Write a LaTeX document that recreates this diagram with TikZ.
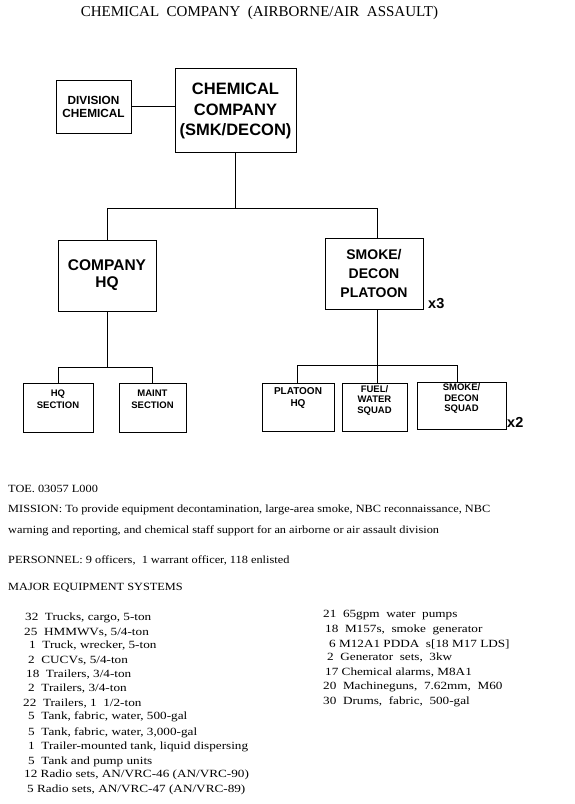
\documentclass[tikz,border=0pt]{standalone}
\usepackage{fontspec}
\setmainfont{Liberation Serif}
\setsansfont{Liberation Sans}
\newfontfamily\bodyfont[FakeStretch=1.12]{Liberation Serif}
\newfontfamily\listfont[FakeStretch=1.2]{Liberation Serif}
\begin{document}
\begin{tikzpicture}[x=1pt,y=-1pt,
  box/.style={draw,line width=1pt,inner sep=0pt},
  lbl/.style={inner sep=0pt,align=center,font=\sffamily\bfseries},
  conn/.style={line width=0.9pt},
  txt/.style={anchor=west,inner sep=0pt,font=\bodyfont\fontsize{11}{12}\selectfont},
  lst/.style={anchor=west,inner sep=0pt,font=\listfont\fontsize{11}{12}\selectfont},
  mult/.style={anchor=west,inner sep=0pt,font=\sffamily\bfseries\fontsize{14.5}{15}\selectfont}]
\useasboundingbox[fill=white] (0,0) rectangle (575,804);
% title
\node[inner sep=0pt,font=\fontsize{15}{17}\selectfont] (title) at (259.5,13) {CHEMICAL\ \ COMPANY\ \ (AIRBORNE/AIR\ \ ASSAULT)};
% boxes
\node[box,minimum width=75pt,minimum height=53pt] (div) at (93.5,106.5) {};
\node[lbl,font=\sffamily\bfseries\fontsize{11.8}{13}\selectfont] (divt) at (div.center) {DIVISION\\CHEMICAL};
\node[box,minimum width=121pt,minimum height=84pt] (chem) at (235.5,110) {};
\node[lbl,font=\sffamily\bfseries\fontsize{16.5}{20.5}\selectfont] (chemt) at ([yshift=-1pt]chem.center) {CHEMICAL\\COMPANY\\(SMK/DECON)};
\node[box,minimum width=98pt,minimum height=71pt] (cohq) at (107,275.5) {};
\node[lbl,font=\sffamily\bfseries\fontsize{15.5}{17}\selectfont] (cohqt) at (cohq.center) {COMPANY\\HQ};
\node[box,minimum width=98pt,minimum height=71pt] (plat) at (374,273.5) {};
\node[lbl,font=\sffamily\bfseries\fontsize{14}{19}\selectfont] (platt) at (plat.center) {SMOKE/\\DECON\\PLATOON};
\node[box,minimum width=70pt,minimum height=49pt] (hqs) at (58,407.5) {};
\node[lbl,font=\sffamily\bfseries\fontsize{9.5}{12}\selectfont] (hqst) at ([yshift=8pt]hqs.center) {HQ\\SECTION};
\node[box,minimum width=67pt,minimum height=49pt] (mnt) at (152.5,407.5) {};
\node[lbl,font=\sffamily\bfseries\fontsize{9.5}{12}\selectfont] (mntt) at ([yshift=8pt]mnt.center) {MAINT\\SECTION};
\node[box,minimum width=72pt,minimum height=48pt] (phq) at (298,407) {};
\node[lbl,font=\sffamily\bfseries\fontsize{10}{11.5}\selectfont] (phqt) at ([yshift=9pt]phq.center) {PLATOON\\HQ};
\node[box,minimum width=65pt,minimum height=48pt] (fuel) at (374.5,407) {};
\node[lbl,font=\sffamily\bfseries\fontsize{9.5}{10.5}\selectfont] (fuelt) at ([yshift=7pt]fuel.center) {FUEL/\\WATER\\SQUAD};
\node[box,minimum width=89pt,minimum height=47pt] (sqd) at (461.5,405.5) {};
\node[lbl,font=\sffamily\bfseries\fontsize{9.5}{10.5}\selectfont] (sqdt) at ([yshift=7pt]sqd.center) {SMOKE/\\DECON\\SQUAD};
\node[mult] (x3) at (428,304) {x3};
\node[mult] (x2) at (507,422) {x2};
% connectors
\coordinate (b0) at (235.5,208);
\coordinate (bl) at (107,208);
\coordinate (br) at (377,208);
\draw[conn] (div.east) -- (div.east -| chem.west);
\draw[conn] (chem.south) -- (b0);
\draw[conn] (cohq.north) -- (bl) -- (br) -- (plat.north -| br);
\coordinate (l0) at (107,367);
\coordinate (l1) at (58,367);
\coordinate (l2) at (152,367);
\draw[conn] (cohq.south) -- (l0);
\draw[conn] (hqs.north -| l1) -- (l1) -- (l2) -- (mnt.north -| l2);
\coordinate (r0) at (377,365);
\coordinate (r1) at (297,365);
\coordinate (r2) at (457,365);
\draw[conn] (plat.south -| r0) -- (r0);
\draw[conn] (phq.north -| r1) -- (r1) -- (r2) -- (sqd.north -| r2);
\draw[conn] (fuel.north -| r0) -- (r0);
% text
\node[txt] (toe) at (8,489) {TOE. 03057 L000};
\node[txt] (mis1) at (8,510) {MISSION: To provide equipment decontamination, large-area smoke, NBC reconnaissance, NBC};
\node[txt] (mis2) at (8,531) {warning and reporting, and chemical staff support for an airborne or air assault division};
\node[txt] (pers) at (8,560) {PERSONNEL: 9 officers, \ 1 warrant officer, 118 enlisted};
\node[txt] (maj) at (8,588) {MAJOR EQUIPMENT SYSTEMS};
\node[lst] (e1) at (25,618) {32 \ Trucks, cargo, 5-ton};
\node[lst] (e2) at (24,633) {25 \ HMMWVs, 5/4-ton};
\node[lst] (e3) at (29,646) {1 \ Truck, wrecker, 5-ton};
\node[lst] (e4) at (28,661) {2 \ CUCVs, 5/4-ton};
\node[lst] (e5) at (26,675) {18 \ Trailers, 3/4-ton};
\node[lst] (e6) at (28,689) {2 \ Trailers, 3/4-ton};
\node[lst] (e7) at (23,704) {22 \ Trailers, 1 \ 1/2-ton};
\node[lst] (e8) at (28,717) {5 \ Tank, fabric, water, 500-gal};
\node[lst] (e9) at (28,733) {5 \ Tank, fabric, water, 3,000-gal};
\node[lst] (e10) at (28,747) {1 \ Trailer-mounted tank, liquid dispersing};
\node[lst] (e11) at (28,762) {5 \ Tank and pump units};
\node[lst] (e12) at (24,775) {12 Radio sets, AN/VRC-46 (AN/VRC-90)};
\node[lst] (e13) at (27,790) {5 Radio sets, AN/VRC-47 (AN/VRC-89)};
\node[lst] (f1) at (323,615) {21 \ 65gpm \ water \ pumps};
\node[lst] (f2) at (325,630) {18 \ M157s, \ smoke \ generator};
\node[lst] (f3) at (329,644) {6 M12A1 PDDA \ s[18 M17 LDS]};
\node[lst] (f4) at (327,658) {2 \ Generator \ sets, \ 3kw};
\node[lst] (f5) at (325,673) {17 Chemical alarms, M8A1};
\node[lst] (f6) at (323,687) {20 \ Machineguns, \ 7.62mm, \ M60};
\node[lst] (f7) at (323,702) {30 \ Drums, \ fabric, \ 500-gal};
\end{tikzpicture}
\end{document}
